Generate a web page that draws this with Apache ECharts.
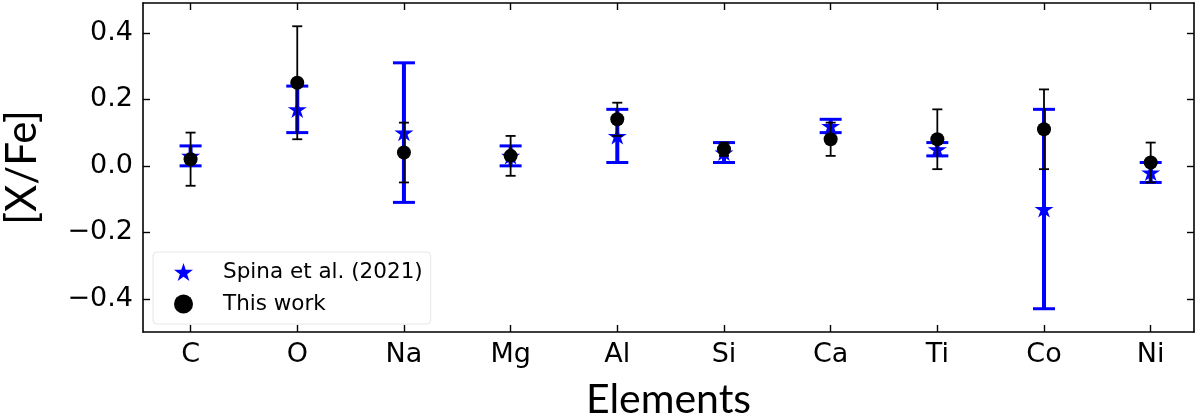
<!DOCTYPE html>
<html>
<head>
<meta charset="utf-8">
<script src="https://cdn.jsdelivr.net/npm/echarts@6/dist/echarts.min.js"></script>
<style>html,body{margin:0;padding:0;background:#fff;}#c{width:1200px;height:413px;}</style>
</head>
<body>
<div id="c"></div>
<script>
const categories = ['C','O','Na','Mg','Al','Si','Ca','Ti','Co','Ni'];
const spinaVal = [0.03,0.17,0.10,0.03,0.09,0.04,0.12,0.05,-0.13,-0.02];
const spinaErr = [0.03,0.07,0.21,0.03,0.08,0.03,0.02,0.02,0.30,0.03];
const workVal = [0.02,0.25,0.04,0.03,0.14,0.05,0.08,0.08,0.11,0.01];
const workErr = [0.08,0.17,0.09,0.06,0.05,0.02,0.05,0.09,0.12,0.06];
const yTicks = [-0.4,-0.2,0.0,0.2,0.4];

const STAR = 'path://M0,-1L0.2245,-0.309L0.9511,-0.309L0.3633,0.118L0.5878,0.809L0,0.382L-0.5878,0.809L-0.3633,0.118L-0.9511,-0.309L-0.2245,-0.309Z';
const xIdx = categories.map((c,i)=>i);

function errBar(color, lw, capW, capLw){
  return function(params, api){
    const x = api.value(0), y = api.value(1), e = api.value(2);
    const hi = api.coord([x, y + e]);
    const lo = api.coord([x, y - e]);
    const st = {stroke: color, lineWidth: lw};
    const cs = {stroke: color, lineWidth: capLw};
    return {type:'group', children:[
      {type:'line', shape:{x1:hi[0],y1:hi[1],x2:lo[0],y2:lo[1]}, style:st},
      {type:'line', shape:{x1:hi[0]-capW/2,y1:hi[1],x2:hi[0]+capW/2,y2:hi[1]}, style:cs},
      {type:'line', shape:{x1:lo[0]-capW/2,y1:lo[1],x2:lo[0]+capW/2,y2:lo[1]}, style:cs}
    ]};
  };
}

const font = 'DejaVu Sans';
const fmtY = v => (v < 0 ? '\u2212' : '') + Math.abs(v).toFixed(1);
const axLine = {show:true, onZero:false, lineStyle:{color:'#000', width:1.6}};
const tick = (vals) => ({show:true, inside:true, length:7, lineStyle:{color:'#000', width:1.4}, customValues: vals});

const option = {
  animation:false,
  backgroundColor:'#fff',
  grid:{left:143, right:6, top:3, bottom:81, containLabel:false, outerBoundsMode:'none'},
  xAxis:[
    {type:'value', min:-0.446, max:9.406, position:'bottom',
     axisLine:axLine, axisTick:tick(xIdx), splitLine:{show:false},
     axisLabel:{customValues:xIdx, formatter:v=>categories[Math.round(v)], fontFamily:font, fontSize:27, color:'#000', margin:9},
     name:'Elements', nameLocation:'middle', nameGap:47,
     nameTextStyle:{fontFamily:'Lato', fontSize:41, color:'#000'}},
    {type:'value', min:-0.446, max:9.406, position:'top',
     axisLine:axLine, axisTick:tick(xIdx), axisLabel:{show:false}, splitLine:{show:false}}
  ],
  yAxis:[
    {type:'value', min:-0.5, max:0.49, position:'left',
     axisLine:axLine, axisTick:tick(yTicks), splitLine:{show:false},
     axisLabel:{customValues:yTicks, formatter:fmtY, fontFamily:font, fontSize:27, color:'#000', margin:10},
     name:'[X/Fe]', nameLocation:'middle', nameGap:100, nameRotate:90,
     nameTextStyle:{fontFamily:'Lato', fontSize:42, color:'#000'}},
    {type:'value', min:-0.5, max:0.49, position:'right',
     axisLine:axLine, axisTick:tick(yTicks), axisLabel:{show:false}, splitLine:{show:false}}
  ],
  legend:{
    left:153, top:252, orient:'vertical',
    itemWidth:19, itemHeight:19, itemGap:10,
    padding:[9,8,9,21],
    backgroundColor:'rgba(255,255,255,0.8)', borderColor:'#e6e6e6', borderWidth:1, borderRadius:4,
    textStyle:{fontFamily:font, fontSize:21.5, color:'#000', padding:[0,0,0,25]},
    data:[
      {name:'Spina et al. (2021)', icon:STAR, itemStyle:{color:'#0000ff'}},
      {name:'This work', icon:'circle', itemStyle:{color:'#000'}}
    ]
  },
  series:[
    {type:'custom', name:'Spina err', z:1, renderItem:errBar('#0000ff',4,22,3),
     data: xIdx.map(i=>[i, spinaVal[i], spinaErr[i]]), silent:true},
    {type:'scatter', name:'Spina et al. (2021)', z:2, symbol:STAR, symbolSize:[19,18], symbolKeepAspect:true,
     itemStyle:{color:'#0000ff', opacity:1}, data: xIdx.map(i=>[i, spinaVal[i]])},
    {type:'custom', name:'Work err', z:3, renderItem:errBar('#000',1.8,10,1.8),
     data: xIdx.map(i=>[i, workVal[i], workErr[i]]), silent:true},
    {type:'scatter', name:'This work', z:4, symbol:'circle', symbolSize:14,
     itemStyle:{color:'#000', opacity:1}, data: xIdx.map(i=>[i, workVal[i]])}
  ]
};
const chart = echarts.init(document.getElementById('c'), null, {renderer:'canvas'});
chart.setOption(option);
</script>
</body>
</html>
